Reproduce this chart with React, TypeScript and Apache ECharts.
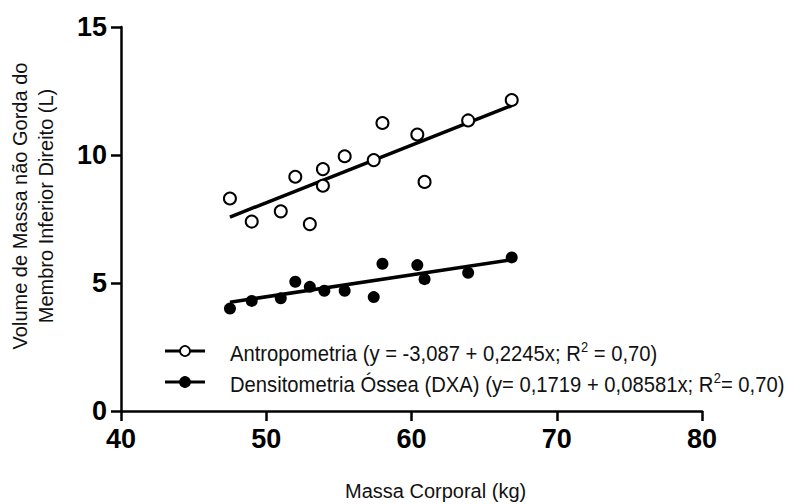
import React, { useEffect, useRef } from 'react';
import * as echarts from 'echarts';

// Antropometria (open circles)
const massaAntro = [47.5, 49.0, 51.0, 52.0, 53.0, 53.9, 53.9, 55.4, 57.4, 58.0, 60.4, 60.9, 63.9, 66.9];
const volAntro = [8.3, 7.4, 7.8, 9.15, 7.3, 9.45, 8.8, 9.95, 9.8, 11.25, 10.8, 8.95, 11.35, 12.15];
// Densitometria Óssea (DXA) (filled circles)
const massaDxa = [47.5, 49.0, 51.0, 52.0, 53.0, 54.0, 55.4, 57.4, 58.0, 60.4, 60.9, 63.9, 66.9];
const volDxa = [4.0, 4.3, 4.4, 5.05, 4.85, 4.7, 4.7, 4.45, 5.75, 5.7, 5.15, 5.4, 6.0];
// Fitted regression coefficients (intercept, slope)
const fitAntro = [-3.087, 0.2245];
const fitDxa = [0.1719, 0.08581];
// Legend labels
const legendAntro = ['Antropometria (y = -3,087 + 0,2245x; R', '2', ' = 0,70)'];
const legendDxa = ['Densitometria Óssea (DXA) (y= 0,1719 + 0,08581x; R', '2', '= 0,70)'];
const xTitle = 'Massa Corporal (kg)';
const yTitle = 'Volume de Massa não Gorda do\nMembro Inferior Direito (L)';

const FONT = '"Liberation Sans", Arial, sans-serif';

function fitLine(xs: number[], coef: number[]) {
  const lo = Math.min(...xs);
  const hi = Math.max(...xs);
  return [
    [lo, coef[0] + coef[1] * lo],
    [hi, coef[0] + coef[1] * hi],
  ];
}

function legendItem(y: number, filled: boolean, parts: string[]) {
  return {
    type: 'group',
    x: 165,
    y: y,
    children: [
      { type: 'line', shape: { x1: 0, y1: 0, x2: 40, y2: 0 }, style: { stroke: '#000', lineWidth: 3 } },
      { type: 'circle', shape: { cx: 20, cy: 0, r: 5 }, style: { fill: filled ? '#000' : '#fff', stroke: '#000', lineWidth: 1.8 } },
      {
        type: 'text',
        x: 65,
        y: -11,
        scaleX: 0.92,
        style: {
          text: `{a|${parts[0]}}{s|${parts[1]}}{a|${parts[2]}}`,
          rich: {
            a: { fontSize: 22, fontFamily: FONT, fill: '#111', lineHeight: 24, verticalAlign: 'bottom' },
            s: { fontSize: 14, fontFamily: FONT, fill: '#111', lineHeight: 24, verticalAlign: 'top' },
          },
        },
      },
    ],
  };
}

export default function App() {
  const ref = useRef<HTMLDivElement>(null);
  useEffect(() => {
    if (!ref.current) return;
    const chart = echarts.init(ref.current, undefined, { renderer: 'svg' });
    const axisCommon = {
      type: 'value' as const,
      splitLine: { show: false },
      axisLine: { show: true, lineStyle: { color: '#000', width: 2.5 } },
      axisTick: { show: true, length: 10, lineStyle: { color: '#000', width: 2.5 } },
      axisLabel: { color: '#000', fontSize: 27, fontWeight: 'bold', fontFamily: FONT },
    };
    chart.setOption({
      animation: false,
      backgroundColor: '#fff',
      grid: { left: 121, right: 100, top: 27, bottom: 93, containLabel: false },
      xAxis: {
        ...axisCommon,
        min: 40,
        max: 80,
        interval: 10,
        axisLabel: { ...axisCommon.axisLabel, margin: 14 },
      },
      yAxis: {
        ...axisCommon,
        min: 0,
        max: 15,
        interval: 5,
        axisLabel: { ...axisCommon.axisLabel, margin: 14 },
      },
      series: [
        {
          type: 'line',
          data: fitLine(massaAntro, fitAntro),
          showSymbol: false,
          lineStyle: { color: '#000', width: 3.5 },
          z: 1,
        },
        {
          type: 'line',
          data: fitLine(massaDxa, fitDxa),
          showSymbol: false,
          lineStyle: { color: '#000', width: 3.5 },
          z: 1,
        },
        {
          type: 'scatter',
          data: massaAntro.map((x, i) => [x, volAntro[i]]),
          symbol: 'circle',
          symbolSize: 12,
          itemStyle: { color: '#fff', borderColor: '#000', borderWidth: 2, opacity: 1 },
          z: 3,
        },
        {
          type: 'scatter',
          data: massaDxa.map((x, i) => [x, volDxa[i]]),
          symbol: 'circle',
          symbolSize: 12,
          itemStyle: { color: '#000', borderWidth: 0, opacity: 1 },
          z: 3,
        },
      ],
      graphic: [
        legendItem(351, false, legendAntro),
        legendItem(382, true, legendDxa),
        {
          type: 'text',
          x: 345,
          y: 491,
          style: { text: xTitle, font: `20px ${FONT}`, fill: '#111', textAlign: 'left', textVerticalAlign: 'middle' },
        },
        {
          type: 'text',
          x: 33,
          y: 206,
          rotation: Math.PI / 2,
          style: {
            text: yTitle,
            font: `20px ${FONT}`,
            fill: '#111',
            textAlign: 'center',
            textVerticalAlign: 'middle',
            lineHeight: 26,
          },
        },
      ],
    });
    return () => chart.dispose();
  }, []);
  return <div ref={ref} style={{ position: 'fixed', left: 0, top: 0, width: 802, height: 504 }} />;
}
